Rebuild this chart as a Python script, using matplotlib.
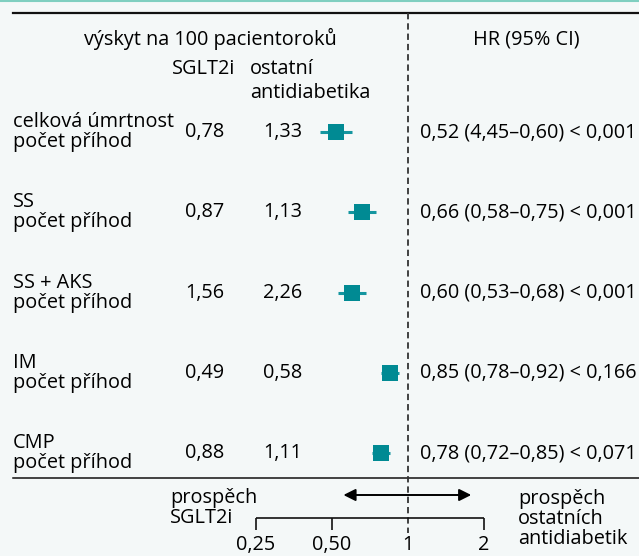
import numpy as np
import matplotlib
matplotlib.use('Agg')
import matplotlib.pyplot as plt
from matplotlib.transforms import blended_transform_factory

plt.rcParams['font.family'] = ['Open Sans', 'DejaVu Sans']

# data
outcomes = ['celková úmrtnost', 'SS', 'SS + AKS', 'IM', 'CMP']
rate_sglt2 = [0.78, 0.87, 1.56, 0.49, 0.88]
rate_other = [1.33, 1.13, 2.26, 0.58, 1.11]
hr = [0.52, 0.66, 0.60, 0.85, 0.78]
ci_lo = [0.45, 0.58, 0.53, 0.78, 0.72]
ci_hi = [0.60, 0.75, 0.68, 0.92, 0.85]
hr_labels = ['0,52 (4,45–0,60) < 0,001',
             '0,66 (0,58–0,75) < 0,001',
             '0,60 (0,53–0,68) < 0,001',
             '0,85 (0,78–0,92) < 0,166',
             '0,78 (0,72–0,85) < 0,071']
xticks = [0.25, 0.5, 1, 2]
xtick_labels = ['0,25', '0,50', '1', '2']

W, H = 639, 556
teal = '#008a93'
bg = '#f4f8f8'
fs = 14.3

fig = plt.figure(figsize=(W / 100, H / 100), dpi=100, facecolor=bg)
ax = fig.add_axes([0, 0, 1, 1])
ax.set_facecolor(bg)
ax.set_xscale('log', base=2)
# 1 sits at x=408 px, ~76 px per doubling
ax.set_xlim(2 ** ((0 - 408) / 76), 2 ** ((W - 408) / 76))
# row i centred at 132 + 80.25*i px from the top
step = 80.25
ax.set_ylim((H - 132) / step, -132 / step)
ax.axis('off')

def py(p):
    return (p - 132) / step

rows = np.arange(len(outcomes))
fx = blended_transform_factory(ax.transAxes, ax.transData)

# frame lines
ax.plot([13 / W, 1], [py(12.5)] * 2, transform=fx, color='#111111', lw=1.6, clip_on=False)
ax.plot([13 / W, 1], [py(478)] * 2, transform=fx, color='#111111', lw=1.1, clip_on=False)
ax.plot([0, 1], [py(0.8)] * 2, transform=fx, color='#7fcfc0', lw=1.5, clip_on=False)

# reference line at HR = 1
ax.plot([1, 1], [py(13), py(533)], color='#333333', lw=1.3, ls=(0, (3.5, 2.2)))

# estimates
hr_a = np.array(hr)
err = [hr_a - np.array(ci_lo), np.array(ci_hi) - hr_a]
ax.errorbar(hr, rows, xerr=err, fmt='s', color=teal, ms=11.5, mew=0,
            elinewidth=2.2, capsize=4.8, capthick=2.2, ecolor='#1496a0')

# headers
ax.text(210 / W, py(39), 'výskyt na 100 pacientoroků', transform=fx,
        ha='center', va='center', fontsize=fs)
ax.text(526 / W, py(39), 'HR (95% CI)', transform=fx, ha='center', va='center', fontsize=fs)
ax.text(204 / W, py(69), 'SGLT2i', transform=fx, ha='center', va='center', fontsize=fs)
ax.text(250 / W, py(69), 'ostatní', transform=fx, ha='left', va='center', fontsize=fs)
ax.text(250 / W, py(93), 'antidiabetika', transform=fx, ha='left', va='center', fontsize=fs)

# row texts
for i in rows:
    ax.text(13 / W, i, outcomes[i] + '\npočet příhod', transform=fx, ha='left',
            va='center', fontsize=fs, linespacing=1.0)
    ax.text(205 / W, i, f'{rate_sglt2[i]:.2f}'.replace('.', ','), transform=fx,
            ha='center', va='center', fontsize=fs)
    ax.text(283 / W, i, f'{rate_other[i]:.2f}'.replace('.', ','), transform=fx,
            ha='center', va='center', fontsize=fs)
    ax.text(420 / W, i, hr_labels[i], transform=fx, ha='left', va='center', fontsize=fs)

# bottom scale
y_axis = py(518)
ax.plot([xticks[0], xticks[-1]], [y_axis, y_axis], color='#111111', lw=1.2, solid_capstyle='butt')
ax.vlines([t for t in xticks if t != 1], y_axis, py(530), color='#111111', lw=1.2)
for t, lab in zip(xticks, xtick_labels):
    ax.text(t, py(545), lab, ha='center', va='center', fontsize=fs)

ax.annotate('', xy=(0.555, py(495)), xytext=(1.78, py(495)),
            arrowprops=dict(arrowstyle='<|-|>', color='black', lw=1.4,
                            mutation_scale=18, shrinkA=0, shrinkB=0))

ax.text(170 / W, py(508), 'prospěch\nSGLT2i', transform=fx, ha='left', va='center',
        fontsize=fs, linespacing=1.0)
ax.text(518 / W, py(519), 'prospěch\nostatních\nantidiabetik', transform=fx, ha='left',
        va='center', fontsize=fs, linespacing=1.0)

fig.savefig('out.png', dpi=100, facecolor=bg)
